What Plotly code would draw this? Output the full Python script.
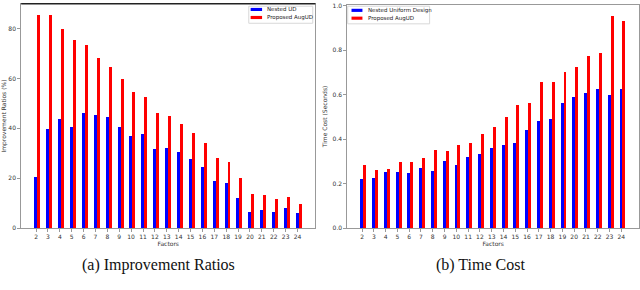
import plotly.graph_objects as go

factors = list(range(2, 25))
ratio_nested = [20.7, 39.9, 43.7, 40.8, 46.4, 45.6, 44.6, 40.8, 36.9, 37.8, 31.9, 32.4,
                30.7, 27.8, 24.8, 18.9, 18.3, 12.2, 6.7, 7.2, 6.5, 8.1, 6.2]
ratio_aug = [85.6, 85.6, 80.0, 75.6, 73.5, 68.4, 64.6, 59.7, 54.8, 52.7, 46.2, 45.0,
             41.8, 38.3, 34.4, 28.2, 26.5, 20.3, 13.7, 13.3, 12.0, 12.8, 9.9]
time_nested = [0.222, 0.228, 0.252, 0.252, 0.250, 0.272, 0.259, 0.303, 0.284, 0.322, 0.335, 0.360,
               0.377, 0.385, 0.443, 0.483, 0.494, 0.565, 0.591, 0.609, 0.628, 0.598, 0.628]
time_aug = [0.285, 0.265, 0.269, 0.297, 0.298, 0.315, 0.354, 0.350, 0.377, 0.386, 0.424, 0.456,
            0.503, 0.556, 0.562, 0.658, 0.658, 0.701, 0.727, 0.774, 0.789, 0.954, 0.933]

W = 0.25
BLUE = "#0000ff"
RED = "#ff0000"

fig = go.Figure()
fig.add_trace(go.Bar(x=factors, y=ratio_nested, width=W, marker_color=BLUE, marker_line_width=0,
                     name="Nested UD", xaxis="x", yaxis="y"))
fig.add_trace(go.Bar(x=[f + W for f in factors], y=ratio_aug, width=W, marker_color=RED, marker_line_width=0,
                     name="Proposed AugUD", xaxis="x", yaxis="y"))
fig.add_trace(go.Bar(x=factors, y=time_nested, width=W, marker_color=BLUE, marker_line_width=0,
                     name="Nested Uniform Design", xaxis="x2", yaxis="y2"))
fig.add_trace(go.Bar(x=[f + W for f in factors], y=time_aug, width=W, marker_color=RED, marker_line_width=0,
                     name="Proposed AugUD", xaxis="x2", yaxis="y2"))

tickfont = dict(family="DejaVu Sans", size=6, color="#333")
axis_common = dict(showgrid=False, zeroline=False, showline=True, linecolor="#999", linewidth=1,
                   ticks="outside", ticklen=3, tickcolor="#999", tickfont=tickfont,
                   ticklabeloverflow="allow")
title_font = dict(family="DejaVu Sans", size=6, color="#333")

H = 290.0


def px(x):
    return x / 640.0


def py(y):
    return (H - y) / H


# custom compact legends (box, swatches, labels)
shapes = [
    dict(type="line", xref="paper", yref="paper", x0=px(18.3), x1=px(314.3),
         y0=py(0.8), y1=py(0.8), line=dict(color="#222", width=1.5)),
]
annotations = []


def add_legend(x0, x1, y0, y1, sw_x0, sw_x1, text_x, entries):
    shapes.append(dict(type="rect", xref="paper", yref="paper", x0=px(x0), x1=px(x1),
                       y0=py(y1), y1=py(y0), line=dict(color="#d8d8d8", width=1),
                       fillcolor="white", layer="above"))
    for (label, color, yc) in entries:
        shapes.append(dict(type="rect", xref="paper", yref="paper", x0=px(sw_x0), x1=px(sw_x1),
                           y0=py(yc + 1.6), y1=py(yc - 1.6), line=dict(width=0),
                           fillcolor=color, layer="above"))
        annotations.append(dict(text=label, x=px(text_x), y=py(yc), xref="paper", yref="paper",
                                xanchor="left", yanchor="middle", showarrow=False,
                                font=dict(family="DejaVu Sans", size=5.5, color="#222")))


add_legend(247.3, 311.7, 3.3, 20.7, 249.2, 260.7, 263.5,
           [("Nested UD", BLUE, 6.6), ("Proposed AugUD", RED, 14.8)])
add_legend(346.9, 429.3, 3.3, 21.3, 350.7, 361.7, 365.5,
           [("Nested Uniform Design", BLUE, 7.5), ("Proposed AugUD", RED, 15.5)])

annotations += [
    dict(text="(a) Improvement Ratios", x=px(156), y=py(268), xref="paper", yref="paper",
         xanchor="center", yanchor="middle",
         showarrow=False, font=dict(family="Liberation Serif", size=16, color="#111")),
    dict(text="(b) Time Cost", x=px(481), y=py(268), xref="paper", yref="paper",
         xanchor="center", yanchor="middle",
         showarrow=False, font=dict(family="Liberation Serif", size=16, color="#111")),
]

fig.update_layout(
    width=640, height=290,
    margin=dict(l=0, r=0, t=0, b=0),
    paper_bgcolor="white", plot_bgcolor="white",
    barmode="overlay",
    bargap=0,
    showlegend=False,
    xaxis=dict(domain=[px(18.3), px(314.3)], range=[0.75, 25.5], tickmode="array",
               tickvals=factors, ticktext=[str(f) for f in factors], mirror=True,
               title=dict(text="Factors", font=title_font, standoff=2),
               anchor="y", **axis_common),
    yaxis=dict(domain=[py(230), py(0.8)], range=[0, 89.9], tickvals=[0, 20, 40, 60, 80],
               mirror=True,
               title=dict(text="Improvement Ratios (%)", font=title_font, standoff=4),
               anchor="x", **axis_common),
    xaxis2=dict(domain=[px(346.5), 1.0], range=[0.75, 25.5], tickmode="array",
                tickvals=factors, ticktext=[str(f) for f in factors], mirror=True,
                title=dict(text="Factors", font=title_font, standoff=2),
                anchor="y2", **axis_common),
    yaxis2=dict(domain=[py(230), py(1.7)], range=[0, 1.004],
                tickvals=[0, 0.2, 0.4, 0.6, 0.8, 1.0], ticktext=["0.0", "0.2", "0.4", "0.6", "0.8", "1.0"],
                mirror=True,
                title=dict(text="Time Cost (Seconds)", font=title_font, standoff=4),
                anchor="x2", **axis_common),
    annotations=annotations,
    shapes=shapes,
)

fig.write_html("out.html", config={"displayModeBar": False},
               post_script="document.body.style.margin='0';document.body.style.padding='0';")
